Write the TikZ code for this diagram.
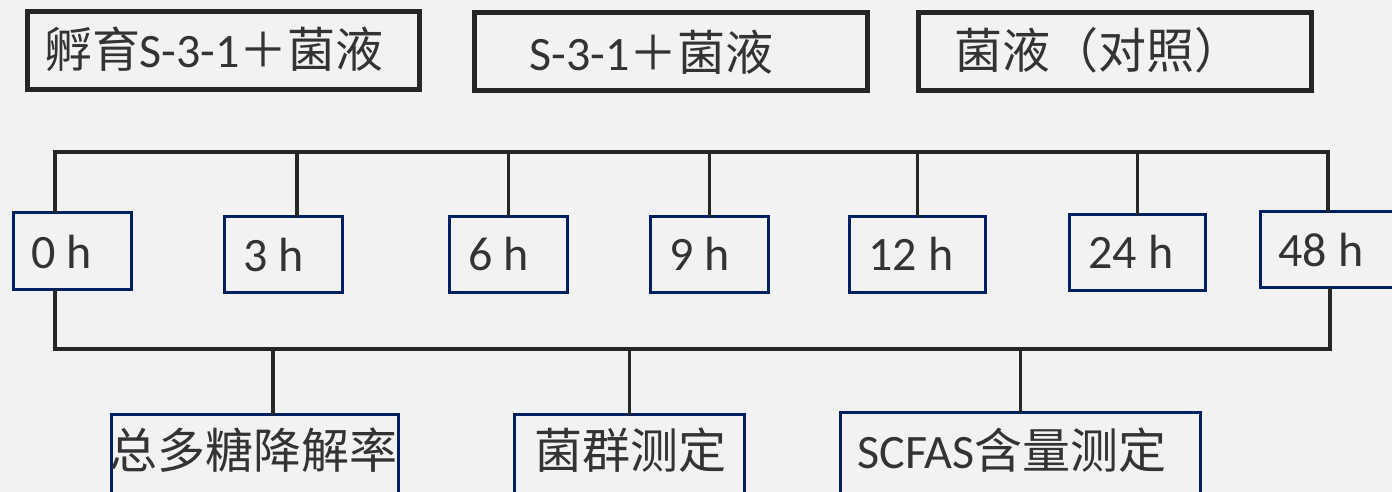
\documentclass[tikz,border=0pt]{standalone}
\usepackage{fontspec}
\setmainfont{Carlito}
\newfontfamily\cjk{Noto Sans CJK SC}
\usetikzlibrary{calc}
\definecolor{bg}{HTML}{F2F2F2}
\definecolor{dk}{HTML}{262626}
\definecolor{navy}{HTML}{002060}
\definecolor{txt}{HTML}{333333}
\tikzset{
  topbox/.style={draw=dk, line width=5pt, rectangle, inner sep=0pt, outer sep=0pt, anchor=north west},
  timebox/.style={draw=navy, line width=3.6pt, rectangle, inner sep=0pt, outer sep=0pt, anchor=north west},
  lbl/.style={inner sep=0pt, outer sep=0pt, anchor=base west, text=txt, font=\fontsize{48pt}{58pt}\selectfont},
  conn/.style={draw=dk, line width=3.4pt}
}
\begin{document}
\begin{tikzpicture}[x=1pt,y=-1pt]
\useasboundingbox (0,0) rectangle (1392,492);
\fill[bg] (0,0) rectangle (1392,492);
\clip (0,0) rectangle (1392,492);

% top boxes
\node[topbox, minimum width=392pt, minimum height=78pt] (g1) at (27,12) {};
\node[topbox, minimum width=393pt, minimum height=78pt] (g2) at (474,13) {};
\node[topbox, minimum width=393pt, minimum height=78pt] (g3) at (918,13) {};
\node[lbl] (g1t) at (44,68) {{\cjk 孵育}S-3-1{\cjk ＋菌液}};
\node[lbl] (g2t) at (529.5,71) {S-3-1{\cjk ＋菌液}};
\node[lbl] (g3t) at (954,69) {{\cjk 菌液（对照）}};

% time boxes
\node[timebox, minimum width=118pt, minimum height=77pt] (t0) at (13.5,212.5) {};
\node[timebox, minimum width=118pt, minimum height=76pt] (t3) at (224.5,216.5) {};
\node[timebox, minimum width=118pt, minimum height=76pt] (t6) at (449.5,216.5) {};
\node[timebox, minimum width=118pt, minimum height=76pt] (t9) at (650.5,216.5) {};
\node[timebox, minimum width=136pt, minimum height=76pt] (t12) at (849.5,216.5) {};
\node[timebox, minimum width=136pt, minimum height=76pt] (t24) at (1069.5,214.5) {};
\node[timebox, minimum width=140pt, minimum height=76pt] (t48) at (1260.5,211.5) {};
\node[lbl] (t0t) at (31.5,268) {0 h};
\node[lbl] (t3t) at (243.5,271) {3 h};
\node[lbl] (t6t) at (468.5,270) {6 h};
\node[lbl] (t9t) at (669.5,270) {9 h};
\node[lbl] (t12t) at (868.5,270) {12 h};
\node[lbl] (t24t) at (1088.5,268) {24 h};
\node[lbl] (t48t) at (1278.5,266) {48 h};

% bottom boxes
\node[timebox, minimum width=287pt, minimum height=100pt] (b1) at (111.5,414.5) {};
\node[timebox, minimum width=230pt, minimum height=100pt] (b2) at (514.5,414.5) {};
\node[timebox, minimum width=360pt, minimum height=100pt] (b3) at (840.5,412.5) {};
\node[lbl] (b1t) at (109.5,468) {{\cjk 总多糖降解率}};
\node[lbl] (b2t) at (534,468) {{\cjk 菌群测定}};
\node[lbl] (b3t) at (857.5,468) {SCFAS{\cjk 含量测定}};

% connectors
\coordinate (topbus) at (0,152);
\coordinate (botbus) at (0,349);
\coordinate (t0top) at ($(t0.north west)+(41.5,0)$);
\coordinate (t48top) at ($(t48.north west)+(67.5,0)$);
\coordinate (t3top) at ($(t3.north west)+(72.5,0)$);
\coordinate (t0bot) at ($(t0.south west)+(41.5,0)$);
\coordinate (t48bot) at ($(t48.south west)+(69.5,0)$);
\coordinate (b1top) at ($(b1.north west)+(161.5,0)$);

\draw[conn] (t0top) -- (t0top |- topbus) -| (t48top);
\draw[conn] (t3top) -- (t3top |- topbus);
\draw[conn] (t6.north) -- (t6.north |- topbus);
\draw[conn] (t9.north) -- (t9.north |- topbus);
\draw[conn] (t12.north) -- (t12.north |- topbus);
\draw[conn] (t24.north) -- (t24.north |- topbus);

\draw[conn] (t0bot) -- (t0bot |- botbus) -| (t48bot);
\draw[conn] (b1top) -- (b1top |- botbus);
\draw[conn] (b2.north) -- (b2.north |- botbus);
\draw[conn] (b3.north) -- (b3.north |- botbus);
\end{tikzpicture}
\end{document}
